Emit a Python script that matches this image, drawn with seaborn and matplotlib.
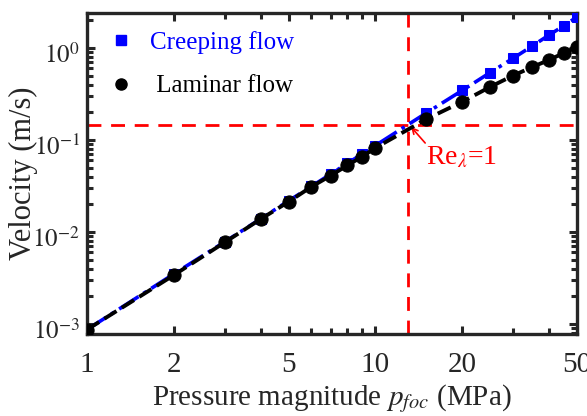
import matplotlib
matplotlib.use("Agg")
import matplotlib.pyplot as plt
import matplotlib.ticker as mticker
import matplotlib.transforms as mtrans
from matplotlib.lines import Line2D
import seaborn as sns
import pandas as pd

# Data
pressure = [1, 2, 3, 4, 5, 6, 7, 8, 9, 10, 15, 20, 25, 30, 35, 40, 45, 50]
creeping = [0.00087, 0.0035, 0.0078, 0.0139, 0.0218, 0.0313, 0.0426, 0.0557,
            0.0705, 0.087, 0.196, 0.345, 0.54, 0.77, 1.05, 1.38, 1.74, 2.17]
laminar = [0.00087, 0.0034, 0.0077, 0.0138, 0.0213, 0.031, 0.041, 0.053,
           0.066, 0.082, 0.168, 0.26, 0.377, 0.50, 0.62, 0.74, 0.88, 1.02]
p_crit = 13
v_crit = 0.147

x_ticks = [1, 2, 5, 10, 20, 50]
y_ticks = [1e-3, 1e-2, 1e-1, 1e0]

df = pd.DataFrame({"p": pressure, "creeping": creeping, "laminar": laminar})

sns.set_style("ticks")
plt.rcParams['font.family'] = ['Liberation Serif', 'DejaVu Serif']
plt.rcParams['mathtext.fontset'] = 'stix'

fig = plt.figure(figsize=(5.87, 4.16), dpi=100)
ax = fig.add_axes([0.148, 0.197, 0.835, 0.772])

sns.lineplot(data=df, x="p", y="creeping", ax=ax, color="blue", linestyle="-.",
             lw=2.6, marker="s", markersize=7, markeredgecolor="blue", zorder=3)
sns.lineplot(data=df, x="p", y="laminar", ax=ax, color="black", linestyle="--",
             lw=2.8, marker="o", markersize=9.5, markeredgecolor="black", zorder=4)

ax.axvline(p_crit, color="red", linestyle=(0, (5, 3.5)), lw=2, zorder=2)
ax.axhline(v_crit, color="red", linestyle=(0, (5, 3.5)), lw=2, zorder=2)

# Re_lambda = 1 marker
ax.annotate("", xy=(13.1, 0.146), xytext=(15.1, 0.088),
            arrowprops=dict(arrowstyle="->", color="red", lw=1.2))
ax.text(19.9, 0.064, "Re$_\\lambda$=1", color="red", fontsize=20,
        ha="center", va="center")

ax.set_xscale("log")
ax.set_yscale("log")
ax.set_xlim(1, 50)
ax.set_ylim(7.8e-4, 2.4)

ax.xaxis.set_major_locator(mticker.FixedLocator(x_ticks))
ax.xaxis.set_major_formatter(mticker.FixedFormatter([str(t) for t in x_ticks]))
ax.xaxis.set_minor_locator(mticker.LogLocator(base=10, subs=range(2, 10)))
ax.xaxis.set_minor_formatter(mticker.NullFormatter())
ax.yaxis.set_major_locator(mticker.FixedLocator(y_ticks))
ax.yaxis.set_major_formatter(mticker.FixedFormatter(
    ["$10^{-3}$", "$10^{-2}$", "$10^{-1}$", "$10^{0}$"]))
ax.yaxis.set_minor_locator(mticker.LogLocator(base=10, subs=range(2, 10)))
ax.yaxis.set_minor_formatter(mticker.NullFormatter())

ax.tick_params(which="both", direction="in", top=True, right=True,
               width=2.2, color="#262626")
ax.tick_params(which="major", length=6)
ax.tick_params(which="minor", length=4)
ax.tick_params(axis="x", which="major", labelsize=21, pad=13)
ax.tick_params(axis="y", which="major", labelsize=18, pad=5)
for s in ax.spines.values():
    s.set_linewidth(2.4)
    s.set_color("#262626")

# nudge y tick labels down a bit (exponent makes them sit high)
shift = mtrans.ScaledTranslation(0, -5 / 100, fig.dpi_scale_trans)
for lab in ax.get_yticklabels():
    lab.set_transform(lab.get_transform() + shift)

ax.set_xlabel("Pressure magnitude $p_{foc}$ (MPa)", fontsize=21, labelpad=3)
ax.set_ylabel("Velocity (m/s)", fontsize=22)
ax.yaxis.set_label_coords(-0.1, 0.5)

handles = [
    Line2D([], [], color="blue", marker="s", linestyle="none", markersize=6.5),
    Line2D([], [], color="black", marker="o", linestyle="none", markersize=8),
]
leg = ax.legend(handles, ["Creeping flow", " Laminar flow"], loc="upper left",
                frameon=False, fontsize=18, handlelength=1.0,
                handletextpad=0.66, labelspacing=0.85, borderpad=0,
                borderaxespad=0, labelcolor=["blue", "black"],
                bbox_to_anchor=(0.044, 0.945))

fig.savefig("out.png", dpi=100)
